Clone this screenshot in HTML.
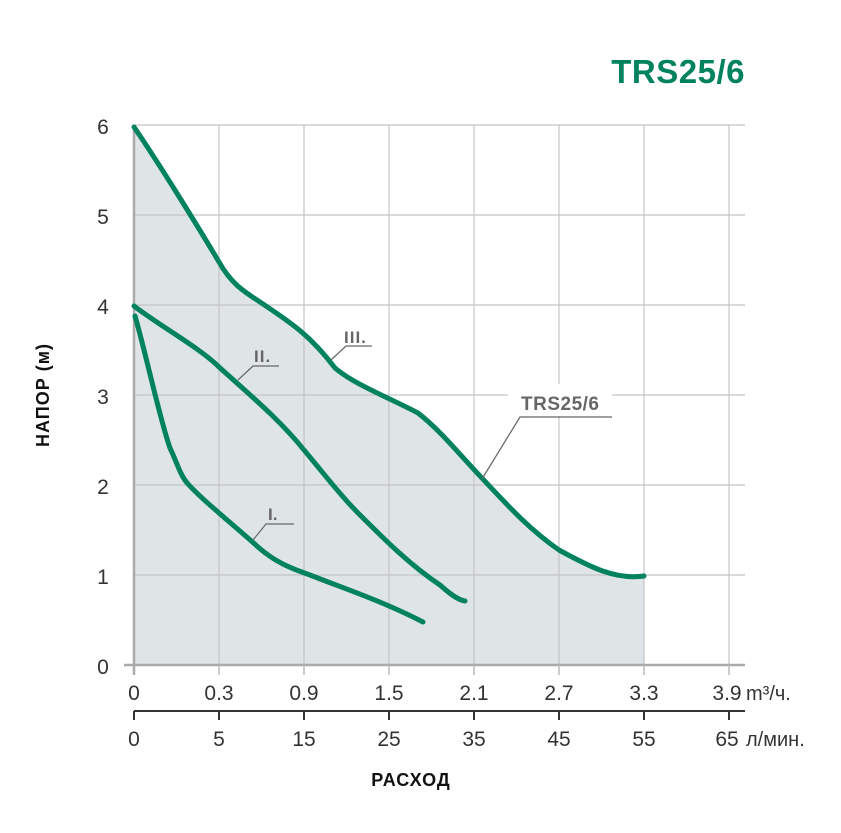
<!DOCTYPE html>
<html><head><meta charset="utf-8"><style>
body{margin:0;background:#fff;}
svg text{font-family:"Liberation Sans",sans-serif;}
</style></head><body>
<svg width="841" height="828" viewBox="0 0 841 828" xmlns="http://www.w3.org/2000/svg">
<rect width="841" height="828" fill="#fff"/>
<path d="M134,127 C160,165 200,230 219,262 C232,285 245,292 260,302 C290,322 310,335 335,368 C355,385 390,398 418,413 C440,430 460,455 480,476 C510,508 530,530 559,550 C590,567 615,580 644,576 L644,665 L134,665 Z" fill="#dfe4e7"/>
<g stroke="#c4c4c4" stroke-width="1.2">
<line x1="219" y1="125" x2="219" y2="665"/><line x1="304" y1="125" x2="304" y2="665"/>
<line x1="389" y1="125" x2="389" y2="665"/><line x1="474" y1="125" x2="474" y2="665"/>
<line x1="559" y1="125" x2="559" y2="665"/><line x1="644" y1="125" x2="644" y2="665"/>
<line x1="729" y1="125" x2="729" y2="665"/>
<line x1="134" y1="125" x2="745" y2="125"/><line x1="134" y1="215" x2="745" y2="215"/>
<line x1="134" y1="305" x2="745" y2="305"/><line x1="134" y1="395" x2="745" y2="395"/>
<line x1="134" y1="485" x2="745" y2="485"/><line x1="134" y1="575" x2="745" y2="575"/>
</g>
<rect x="508" y="384" width="104" height="32" fill="#fff"/>
<g stroke="#aaa" stroke-width="2.5">
<line x1="124" y1="665" x2="745" y2="665"/><line x1="134" y1="125" x2="134" y2="675"/>
</g>
<g stroke="#bbb" stroke-width="1.5">
<line x1="219" y1="665" x2="219" y2="675"/><line x1="304" y1="665" x2="304" y2="675"/><line x1="389" y1="665" x2="389" y2="675"/><line x1="474" y1="665" x2="474" y2="675"/><line x1="559" y1="665" x2="559" y2="675"/><line x1="644" y1="665" x2="644" y2="675"/><line x1="729" y1="665" x2="729" y2="675"/>
</g>
<g stroke="#333" stroke-width="2">
<line x1="134" y1="711" x2="745" y2="711"/>
<line x1="134" y1="711" x2="134" y2="720"/><line x1="219" y1="711" x2="219" y2="720"/><line x1="304" y1="711" x2="304" y2="720"/><line x1="389" y1="711" x2="389" y2="720"/><line x1="474" y1="711" x2="474" y2="720"/><line x1="559" y1="711" x2="559" y2="720"/><line x1="644" y1="711" x2="644" y2="720"/><line x1="729" y1="711" x2="729" y2="720"/>
</g>
<g fill="none" stroke="#00825f" stroke-width="5" stroke-linecap="round" stroke-linejoin="round">
<path d="M134,127 C160,165 200,230 219,262 C232,285 245,292 260,302 C290,322 310,335 335,368 C355,385 390,398 418,413 C440,430 460,455 480,476 C510,508 530,530 559,550 C590,567 615,580 644,576"/>
<path d="M134,306 C160,326 200,348 219,367 C250,395 280,420 304,450 C325,475 340,495 358,513 C385,540 410,565 440,585 C450,594 458,600 465,601"/>
<path d="M135,316 C145,350 160,420 170,448 C178,465 180,475 188,484 C200,497 210,505 219,513 C235,527 245,535 258,547 C275,562 290,568 310,575 C340,587 380,600 423,622"/>
</g>
<g stroke="#666" stroke-width="1.2" fill="none">
<polyline points="331,360 346,346 372,346"/>
<polyline points="238,380 253,366 279,366"/>
<polyline points="253,540 266,524 294,524"/>
<polyline points="482,479 520,417 612,417"/>
</g>
<g fill="#666" font-weight="bold" font-size="17">
<text x="344" y="343" letter-spacing="1">III.</text>
<text x="254" y="362" letter-spacing="1">II.</text>
<text x="268" y="520">I.</text>
<text x="521" y="410" font-size="19" letter-spacing="0.5">TRS25/6</text>
</g>
<text x="745" y="83" text-anchor="end" fill="#00825f" font-weight="bold" font-size="33" letter-spacing="0.5">TRS25/6</text>
<g font-size="21" fill="#333" text-anchor="middle">
<text x="103" y="134">6</text><text x="103" y="224">5</text><text x="103" y="314">4</text><text x="103" y="404">3</text><text x="103" y="494">2</text><text x="103" y="584">1</text><text x="103" y="674">0</text>
</g>
<g font-size="21" fill="#333" text-anchor="middle">
<text x="134" y="700">0</text><text x="219" y="700">0.3</text><text x="304" y="700">0.9</text><text x="389" y="700">1.5</text><text x="474" y="700">2.1</text><text x="559" y="700">2.7</text><text x="644" y="700">3.3</text><text x="727" y="700">3.9</text>
<text x="134" y="746">0</text><text x="219" y="746">5</text><text x="304" y="746">15</text><text x="389" y="746">25</text><text x="474" y="746">35</text><text x="559" y="746">45</text><text x="644" y="746">55</text><text x="727" y="746">65</text>
</g>
<text x="746" y="700" font-size="20" fill="#333">m³/ч.</text>
<text x="746" y="746" font-size="20" fill="#333">л/мин.</text>
<text x="411" y="786" text-anchor="middle" font-size="18" font-weight="bold" fill="#111" letter-spacing="1">РАСХОД</text>
<text transform="translate(49,395) rotate(-90)" text-anchor="middle" font-size="18" font-weight="bold" fill="#111" letter-spacing="1">НАПОР (м)</text>
</svg>
</body></html>
